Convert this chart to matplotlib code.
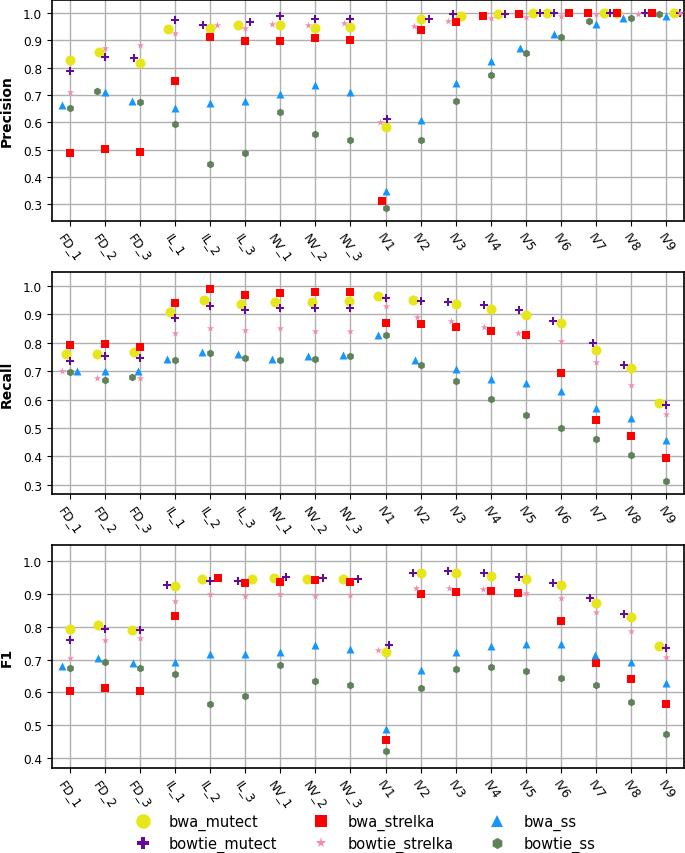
import numpy as np
import matplotlib
matplotlib.use("Agg")
import matplotlib.pyplot as plt
from matplotlib.ticker import MultipleLocator
from matplotlib.lines import Line2D

# カテゴリ
categories = ["FD_1", "FD_2", "FD_3", "IL_1", "IL_2", "IL_3", "NV_1", "NV_2", "NV_3",
              "IV1", "IV2", "IV3", "IV4", "IV5", "IV6", "IV7", "IV8", "IV9"]
series_names = ["bwa_mutect", "bowtie_mutect", "bwa_strelka", "bowtie_strelka", "bwa_ss", "bowtie_ss"]

# Precision
precision_bwa_mutect = [0.828, 0.856, 0.817, 0.941, 0.945, 0.955, 0.957, 0.946, 0.948, 0.582, 0.978, 0.990, 0.996, 0.999, 1.0, 1.0, 1.0, 1.0]
precision_bowtie_mutect = [0.789, 0.838, 0.837, 0.973, 0.955, 0.967, 0.988, 0.980, 0.977, 0.612, 0.979, 0.998, 0.996, 0.999, 0.999, 1.0, 1.0, 1.0]
precision_bwa_strelka = [0.488, 0.501, 0.491, 0.750, 0.913, 0.899, 0.898, 0.910, 0.901, 0.310, 0.939, 0.968, 0.988, 0.995, 0.999, 0.999, 1.0, 1.0]
precision_bowtie_strelka = [0.710, 0.872, 0.884, 0.927, 0.957, 0.946, 0.960, 0.957, 0.962, 0.602, 0.952, 0.972, 0.982, 0.985, 0.989, 0.995, 0.998, 1.0]
precision_bwa_ss = [0.663, 0.712, 0.678, 0.651, 0.672, 0.679, 0.702, 0.738, 0.710, 0.349, 0.609, 0.744, 0.824, 0.872, 0.922, 0.960, 0.982, 0.990]
precision_bowtie_ss = [0.651, 0.716, 0.673, 0.593, 0.448, 0.487, 0.638, 0.557, 0.535, 0.285, 0.535, 0.679, 0.773, 0.855, 0.912, 0.970, 0.981, 0.997]

# Recall
recall_bwa_mutect = [0.760, 0.760, 0.767, 0.910, 0.949, 0.938, 0.942, 0.945, 0.948, 0.963, 0.951, 0.938, 0.920, 0.899, 0.868, 0.775, 0.710, 0.588]
recall_bowtie_mutect = [0.736, 0.753, 0.747, 0.888, 0.930, 0.916, 0.922, 0.921, 0.922, 0.958, 0.948, 0.943, 0.932, 0.914, 0.875, 0.799, 0.723, 0.581]
recall_bwa_strelka = [0.792, 0.796, 0.786, 0.940, 0.988, 0.969, 0.976, 0.978, 0.980, 0.870, 0.866, 0.854, 0.842, 0.829, 0.693, 0.529, 0.473, 0.396]
recall_bowtie_strelka = [0.700, 0.675, 0.676, 0.834, 0.853, 0.845, 0.853, 0.843, 0.843, 0.928, 0.890, 0.875, 0.854, 0.835, 0.807, 0.733, 0.651, 0.549]
recall_bwa_ss = [0.702, 0.700, 0.702, 0.742, 0.769, 0.760, 0.744, 0.753, 0.757, 0.828, 0.740, 0.708, 0.674, 0.658, 0.630, 0.569, 0.537, 0.459]
recall_bowtie_ss = [0.698, 0.670, 0.678, 0.739, 0.764, 0.747, 0.739, 0.742, 0.753, 0.826, 0.721, 0.664, 0.603, 0.547, 0.499, 0.462, 0.404, 0.313]

# F1
f1_bwa_mutect = [0.793, 0.805, 0.791, 0.925, 0.946, 0.945, 0.948, 0.944, 0.946, 0.724, 0.964, 0.963, 0.955, 0.945, 0.928, 0.873, 0.829, 0.740]
f1_bowtie_mutect = [0.761, 0.792, 0.789, 0.928, 0.940, 0.940, 0.952, 0.949, 0.946, 0.745, 0.964, 0.970, 0.964, 0.953, 0.932, 0.887, 0.839, 0.735]
f1_bwa_strelka = [0.603, 0.613, 0.604, 0.833, 0.947, 0.932, 0.935, 0.941, 0.937, 0.456, 0.900, 0.907, 0.908, 0.903, 0.817, 0.691, 0.640, 0.565]
f1_bowtie_strelka = [0.704, 0.760, 0.765, 0.877, 0.901, 0.893, 0.901, 0.895, 0.898, 0.729, 0.919, 0.919, 0.914, 0.902, 0.888, 0.844, 0.786, 0.708]
f1_bwa_ss = [0.682, 0.705, 0.690, 0.692, 0.716, 0.716, 0.722, 0.745, 0.733, 0.489, 0.667, 0.724, 0.740, 0.748, 0.748, 0.714, 0.694, 0.628]
f1_bowtie_ss = [0.674, 0.692, 0.676, 0.657, 0.564, 0.589, 0.684, 0.635, 0.624, 0.422, 0.614, 0.670, 0.677, 0.665, 0.644, 0.624, 0.571, 0.475]

metrics = [
    ("Precision", [precision_bwa_mutect, precision_bowtie_mutect, precision_bwa_strelka,
                   precision_bowtie_strelka, precision_bwa_ss, precision_bowtie_ss], (0.238, 1.048)),
    ("Recall", [recall_bwa_mutect, recall_bowtie_mutect, recall_bwa_strelka,
                recall_bowtie_strelka, recall_bwa_ss, recall_bowtie_ss], (0.268, 1.049)),
    ("F1", [f1_bwa_mutect, f1_bowtie_mutect, f1_bwa_strelka,
            f1_bowtie_strelka, f1_bwa_ss, f1_bowtie_ss], (0.370, 1.049)),
]

# マーカー設定 (色, 形, サイズ)
styles = {
    "bwa_mutect": ("#e6e61a", "o", 52),
    "bowtie_mutect": ("#660a9e", "P", 30),
    "bwa_strelka": ("#ff0000", "s", 33),
    "bowtie_strelka": ("#f28cb1", "*", 30),
    "bwa_ss": ("#1596ff", "^", 33),
    "bowtie_ss": ("#5f825a", "h", 31),
}


def swarm_offsets(ax, xc, ys, r_px=3.8, width=0.8):
    """seaborn の beeswarm と同じ考え方で x 方向のずらし量を求める"""
    pts = ax.transData.transform(np.column_stack([np.full(len(ys), xc), ys]))
    x0 = ax.transData.transform([(xc, 0)])[0, 0]
    x1 = ax.transData.transform([(xc + 1, 0)])[0, 0]
    px_per_unit = x1 - x0
    py = pts[:, 1]
    order = np.argsort(py, kind="stable")
    placed = []  # 中心からの相対位置 (px)
    xs = np.zeros(len(ys))
    d = 2 * r_px
    for i in order:
        y = py[i]
        neigh = [(px, pyy) for px, pyy in placed if abs(y - pyy) < d]
        cands = [0.0]
        left_first = True
        for px, pyy in neigh:
            dx = np.sqrt(max(d ** 2 - (y - pyy) ** 2, 0)) * 1.05
            pair = [px - dx, px + dx] if left_first else [px + dx, px - dx]
            cands.extend(pair)
            left_first = not left_first
        cands = np.array(cands)
        cands = cands[np.argsort(np.round(np.abs(cands), 6), kind="stable")]
        chosen = cands[-1]
        for c in cands:
            ok = all((c - px) ** 2 + (y - pyy) ** 2 - d ** 2 > -1e-3 for px, pyy in neigh)
            if ok:
                chosen = c
                break
        placed.append((chosen, y))
        xs[i] = chosen
    off = xs / px_per_unit
    return np.clip(off, -width / 2, width / 2)


fig = plt.figure(figsize=(6.85, 8.54), dpi=100)
W, H = 685, 854
panels = [(1, 222), (273, 495), (546, 769)]
left_px, right_px = 52, 684

x = np.arange(len(categories))
for (label, values, ylim), (top, bottom) in zip(metrics, panels):
    ax = fig.add_axes([left_px / W, 1 - bottom / H, (right_px - left_px) / W, (bottom - top) / H])
    ax.set_xlim(-0.5, len(categories) - 0.5)
    ax.set_ylim(ylim)
    ax.set_axisbelow(True)
    ax.grid(True, color="#b0b0b0", linewidth=1.0)

    vals = np.array(values)  # (series, category)
    offsets = np.zeros_like(vals)
    for j in range(len(categories)):
        offsets[:, j] = swarm_offsets(ax, x[j], vals[:, j])

    for k, name in enumerate(series_names):
        color, marker, size = styles[name]
        ax.scatter(x + offsets[k], vals[k], s=size, marker=marker, color=color,
                   linewidths=0, zorder=3, clip_on=True)

    ax.set_xticks(x)
    ax.set_xticklabels(categories, rotation=-55, ha="center", fontsize=8.7)
    ax.yaxis.set_major_locator(MultipleLocator(0.1))
    ax.tick_params(axis="y", labelsize=8.7)
    ax.set_ylabel(label, fontsize=10, fontweight="bold")
    ax.yaxis.set_label_coords(-0.060, 0.5)
    for sp in ax.spines.values():
        sp.set_linewidth(1.2)

# 凡例
handles = []
for name in series_names:
    color, marker, size = styles[name]
    handles.append(Line2D([0], [0], marker=marker, color=color, linestyle="",
                          markeredgewidth=0, markersize=np.sqrt(size) * 1.45, label=name))
fig.legend(handles=handles, loc="center", bbox_to_anchor=(0.528, 1 - 834 / H), ncol=3,
           frameon=False, fontsize=10.5, handletextpad=0.8, columnspacing=2.0,
           labelspacing=0.4)

fig.savefig("out.png", dpi=100)
